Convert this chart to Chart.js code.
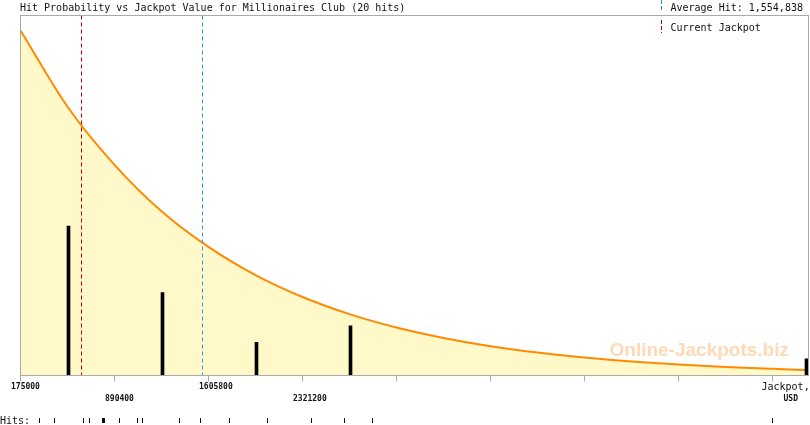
<!DOCTYPE html>
<html>
<head>
<meta charset="utf-8">
<title>Hit Probability vs Jackpot Value</title>
<script src="https://cdn.jsdelivr.net/npm/chart.js@4.4.1/dist/chart.umd.min.js"></script>
<style>
  html, body { margin: 0; padding: 0; background: #fff; }
  #chart { display: block; }
</style>
</head>
<body>
<canvas id="chart" width="810" height="425"></canvas>
<script>
// CHART DATA (jackpot values in USD, heights in hits)
const gameName = "Millionaires Club"
const averageHit = 1554838
const currentJackpot = 637000

// x axis ticks and the labelled ones
const tickValues = [175000, 890400, 1605800, 2321200, 3036600, 3752000, 4467400, 5182800, 5898200]
const labelValues = [175000, 890400, 1605800, 2321200]

// probability curve
const curveX = [175000, 532700, 890400, 1248100, 1605800, 1963500, 2321200, 2678900, 3036600,
  3394300, 3752000, 4109700, 4467400, 4825100, 5182800, 5540500, 5898200, 6172200]
const curveY = [20.8, 16.2, 12.7, 9.9, 7.75, 6.05, 4.73, 3.7, 2.89,
  2.26, 1.76, 1.38, 1.08, 0.84, 0.66, 0.51, 0.4, 0.33]

// histogram bars
const barX = [540300, 1255700, 1971100, 2686500, 6157000]
const barHits = [9, 5, 2, 3, 1]

// single hits (rug under the axis)
const hitValues = [319600, 433800, 654500, 700100, 799100, 799100, 806700, 814300, 814300,
  928500, 1065400, 1103500, 1385100, 1544900, 1765600, 2054800, 2389700, 2640800, 2853900, 5898200]

const xMin = 175000
const xMax = 6172200
const yMax = 21.7

// COLOURS & FONTS
const MONO = '"DejaVu Sans Mono", "Liberation Mono", monospace'
const GRAY = "#aaaaaa"
const ORANGE = "#ff8a00"
const FILL = "#fff8c8"
const RED = "#c00000"
const BLUE = "#2e9ad8"

// EXTRA DRAWING: frame, reference lines, texts, rug
const extras = {
  id: "extras",
  beforeDatasetsDraw(chart) {
    const { ctx, chartArea } = chart
    ctx.save()
    ctx.fillStyle = "#ffd9b5"
    ctx.font = 'bold 19px "Liberation Sans", Arial, sans-serif'
    ctx.textBaseline = "alphabetic"
    ctx.fillText("Online-Jackpots.biz", chartArea.right - 199, 355.5)
    ctx.restore()
  },
  afterDatasetsDraw(chart) {
    const { ctx, chartArea } = chart
    const x = chart.scales.x
    ctx.save()
    // reference lines
    ctx.lineWidth = 1
    ctx.setLineDash([4, 3])
    ;[[currentJackpot, RED], [averageHit, BLUE]].forEach(([v, c]) => {
      const px = Math.round(x.getPixelForValue(v)) + 0.5
      ctx.strokeStyle = c
      ctx.beginPath()
      ctx.moveTo(px, chartArea.top)
      ctx.lineTo(px, chartArea.bottom)
      ctx.stroke()
    })
    ctx.setLineDash([])
    // frame
    ctx.strokeStyle = GRAY
    ctx.strokeRect(chartArea.left, chartArea.top,
      chartArea.right - chartArea.left, chartArea.bottom - chartArea.top)
    ctx.restore()
  },
  afterDraw(chart) {
    const { ctx } = chart
    const x = chart.scales.x
    ctx.save()
    ctx.fillStyle = "#111"
    ctx.textBaseline = "alphabetic"
    ctx.textAlign = "left"

    // title + legend
    ctx.font = "10px " + MONO
    ctx.fillText("Hit Probability vs Jackpot Value for " + gameName + " (" + hitValues.length + " hits)", 20, 11)
    ctx.fillText("Average Hit: " + averageHit.toLocaleString("en-US"), 670.5, 10.5)
    ctx.fillText("Current Jackpot", 670.5, 31)
    ctx.lineWidth = 1
    ctx.setLineDash([4, 2])
    ctx.strokeStyle = BLUE
    ctx.beginPath(); ctx.moveTo(661.5, 0); ctx.lineTo(661.5, 11); ctx.stroke()
    ctx.strokeStyle = RED
    ctx.beginPath(); ctx.moveTo(661.5, 20); ctx.lineTo(661.5, 33); ctx.stroke()
    ctx.setLineDash([])

    // tick labels, alternating rows
    ctx.font = "bold 8px " + MONO
    labelValues.forEach((v, i) => {
      ctx.fillText(String(v), x.getPixelForValue(v) - 9.5, i % 2 ? 400.5 : 388.5)
    })
    ctx.font = "10px " + MONO
    ctx.fillText("Jackpot,", 761.5, 390)
    ctx.font = "bold 8px " + MONO
    ctx.fillText("USD", 783.5, 400.5)

    // hits rug
    ctx.font = "10px " + MONO
    ctx.fillText("Hits:", 0, 423.5)
    ctx.strokeStyle = "#000"
    hitValues.forEach((v) => {
      const px = Math.floor(x.getPixelForValue(v)) + 0.5
      ctx.beginPath()
      ctx.moveTo(px, 418)
      ctx.lineTo(px, 423)
      ctx.stroke()
    })
    ctx.restore()
  },
}

// BUILD CHART
const ctx = document.getElementById("chart").getContext("2d")

new Chart(ctx, {
  type: "line",
  data: {
    datasets: [
      {
        type: "bar",
        data: barX.map((v, i) => ({ x: v, y: barHits[i] })),
        backgroundColor: "#000",
        barThickness: 3,
        order: 1,
      },
      {
        type: "line",
        data: curveX.map((v, i) => ({ x: v, y: curveY[i] })),
        borderColor: ORANGE,
        borderWidth: 2,
        backgroundColor: FILL,
        fill: "origin",
        pointRadius: 0,
        cubicInterpolationMode: "monotone",
        order: 2,
      },
    ],
  },
  options: {
    responsive: false,
    animation: false,
    layout: { padding: { left: 20.5, right: 1.5, top: 15.5, bottom: 43.5 } },
    plugins: { legend: { display: false }, tooltip: { enabled: false } },
    scales: {
      x: {
        type: "linear",
        min: xMin,
        max: xMax,
        offset: false,
        afterBuildTicks: (s) => {
          s.ticks = tickValues.map((v) => ({ value: v }))
        },
        ticks: { display: false },
        grid: { offset: false, drawOnChartArea: false, tickLength: 6, color: GRAY },
        border: { color: GRAY },
      },
      y: {
        display: false,
        min: 0,
        max: yMax,
      },
    },
  },
  plugins: [extras],
})
</script>
</body>
</html>
